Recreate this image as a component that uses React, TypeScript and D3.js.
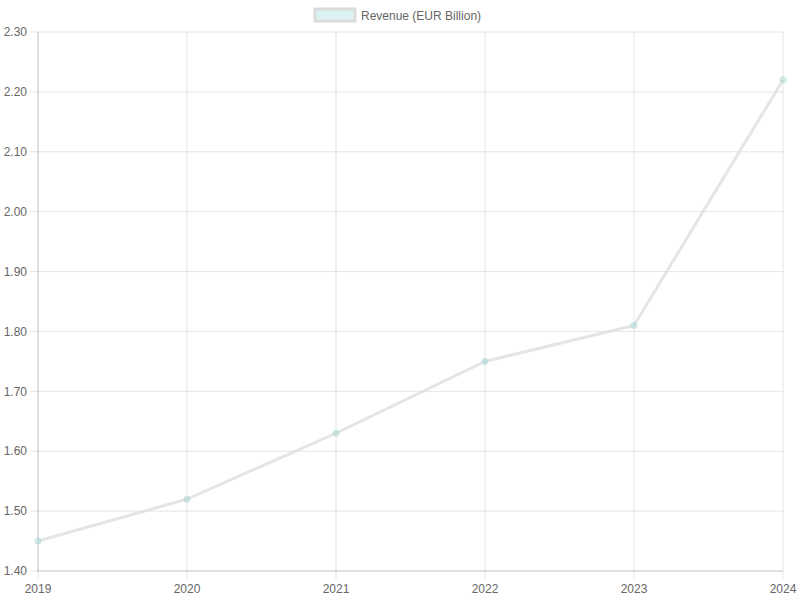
import React from 'react';
import * as d3 from 'd3';

const years = ['2019', '2020', '2021', '2022', '2023', '2024'];
const revenue = [1.45, 1.52, 1.63, 1.75, 1.81, 2.22];
const yTicks = [1.4, 1.5, 1.6, 1.7, 1.8, 1.9, 2.0, 2.1, 2.2, 2.3];
const seriesLabel = 'Revenue (EUR Billion)';

const width = 800;
const height = 600;
const margin = { top: 32, right: 17, bottom: 29, left: 38 };
const font = '"Liberation Sans", Arial, Helvetica, sans-serif';

export default function App() {
  const innerW = width - margin.left - margin.right;
  const innerH = height - margin.top - margin.bottom;

  const x = d3.scalePoint<string>().domain(years).range([0, innerW]);
  const y = d3.scaleLinear().domain([1.4, 2.3]).range([innerH, 0]);

  const line = d3
    .line<number>()
    .x((_, i) => x(years[i]) as number)
    .y((d) => y(d));

  return (
    <svg
      width={width}
      height={height}
      style={{ position: 'absolute', left: 0, top: 0, background: '#fff' }}
      fontFamily={font}
    >
      {/* Legend */}
      <g>
        <rect x={315} y={9} width={40} height={12} fill="rgba(75,192,192,0.2)" stroke="#dcdcdc" strokeWidth={3} />
        <text x={361} y={19.5} fontSize={12} fill="#666">
          {seriesLabel}
        </text>
      </g>

      <g transform={`translate(${margin.left},${margin.top})`}>
        {/* Horizontal grid + y labels */}
        {yTicks.map((t) => (
          <g key={t} transform={`translate(0,${y(t)})`}>
            <line x1={-8} x2={innerW} stroke="rgba(0,0,0,0.1)" />
            <text x={-11} dy="0.35em" textAnchor="end" fontSize={12} fill="#666">
              {t.toFixed(2)}
            </text>
          </g>
        ))}
        {/* Vertical grid + x labels */}
        {years.map((yr) => (
          <g key={yr} transform={`translate(${x(yr)},0)`}>
            <line y1={0} y2={innerH + 8} stroke="rgba(0,0,0,0.1)" />
            <text y={innerH + 22} textAnchor="middle" fontSize={12} fill="#666">
              {yr}
            </text>
          </g>
        ))}
        {/* Axis borders */}
        <line x1={0} x2={0} y1={0} y2={innerH} stroke="rgba(0,0,0,0.15)" />
        <line x1={0} x2={innerW} y1={innerH} y2={innerH} stroke="rgba(0,0,0,0.15)" />

        {/* Line */}
        <path d={line(revenue) ?? ''} fill="none" stroke="rgba(220,220,220,0.75)" strokeWidth={3} />
        {/* Points */}
        {revenue.map((v, i) => (
          <circle
            key={years[i]}
            cx={x(years[i])}
            cy={y(v)}
            r={3}
            fill="rgba(75,192,192,0.2)"
            stroke="rgba(190,220,220,0.9)"
            strokeWidth={1}
          />
        ))}
      </g>
    </svg>
  );
}
